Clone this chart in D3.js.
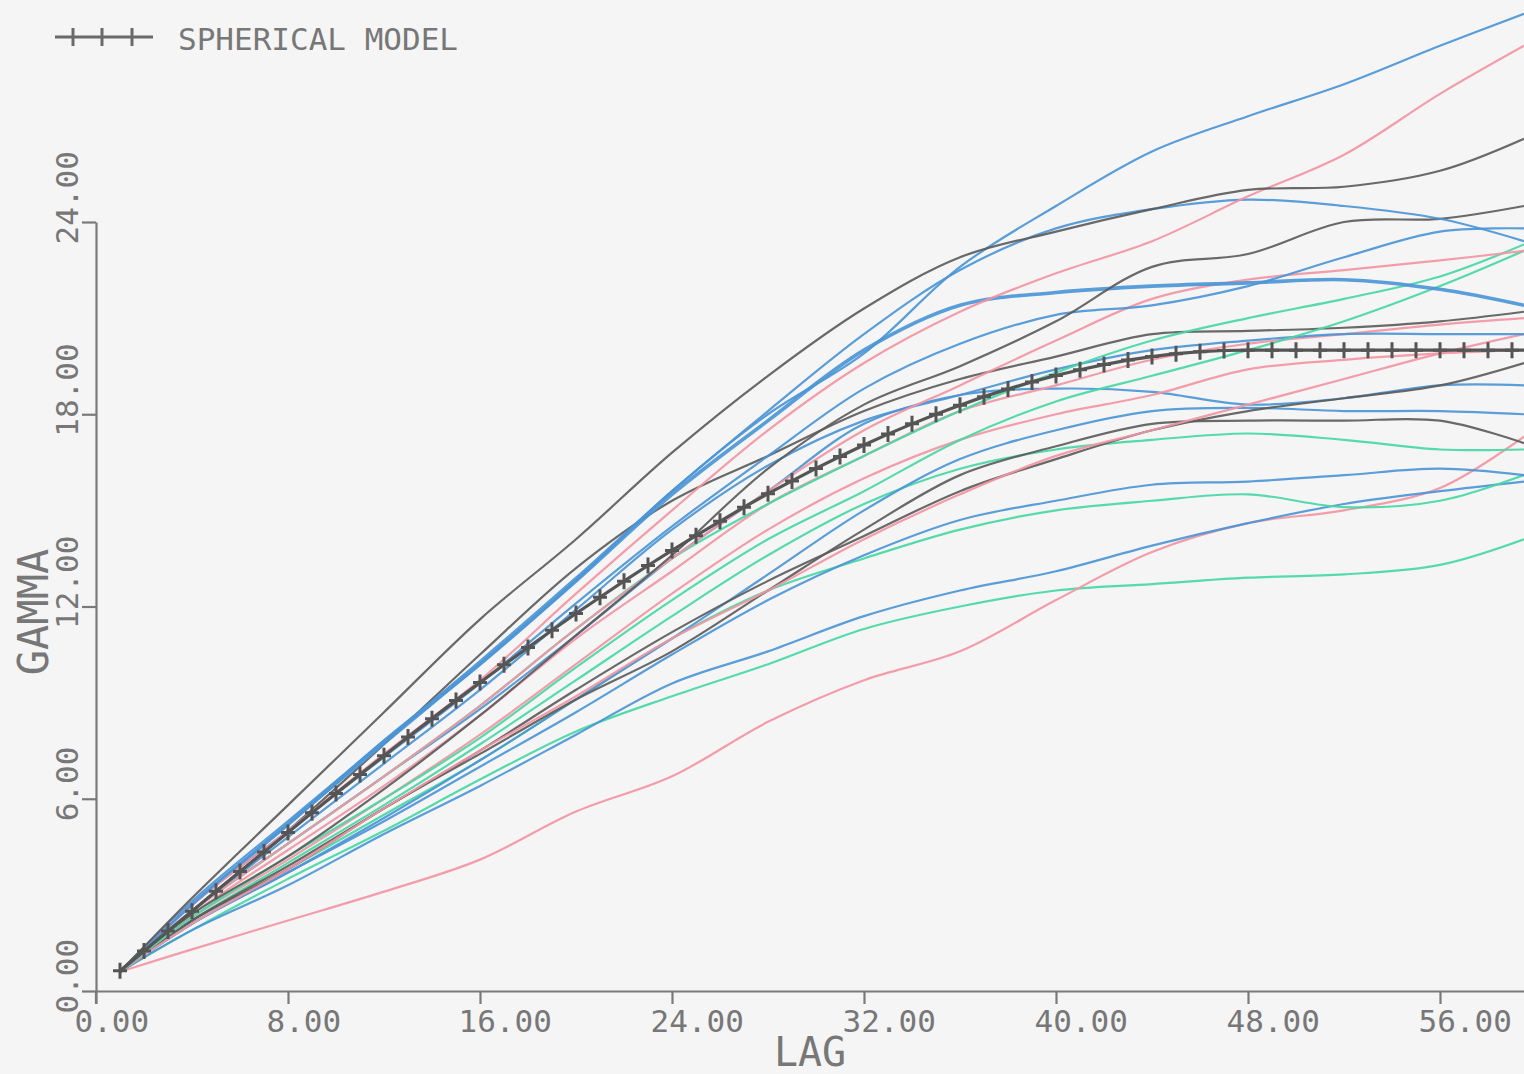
<!DOCTYPE html>
<html>
<head>
<meta charset="utf-8">
<script src="https://cdn.jsdelivr.net/npm/d3@7"></script>
<style>
  html, body { margin: 0; padding: 0; background: #f5f5f5; }
  svg { display: block; }
  text { font-family: "DejaVu Sans Mono", monospace; fill: #777; }
</style>
</head>
<body>
<svg id="chart" width="1524" height="1074"></svg>
<script>
// Lags at which each experimental variogram curve is sampled
const lags = [1, 4, 8, 12, 16, 20, 24, 28, 32, 36, 40, 44, 48, 52, 56, 59.5];

// Experimental variograms (gamma at each lag)
const gammaA = [0.6, 2.7, 5.2, 7.7, 10.2, 12.8, 15.6, 18.0, 19.9, 22.6, 24.5, 26.2, 27.3, 28.3, 29.5, 30.5];
const gammaB = [0.6, 2.7, 5.0, 7.4, 9.7, 12.4, 15.0, 17.5, 19.6, 21.2, 22.4, 23.4, 24.8, 26.1, 28.0, 29.5];
const gammaC = [0.6, 2.9, 5.8, 8.7, 11.6, 14.1, 16.8, 19.2, 21.3, 22.9, 23.7, 24.4, 25.0, 25.1, 25.6, 26.6];
const gammaD = [0.6, 2.8, 5.3, 7.8, 10.3, 12.9, 15.6, 18.1, 20.5, 22.5, 23.8, 24.4, 24.7, 24.5, 24.1, 23.4];
const gammaE = [0.6, 2.4, 4.2, 6.3, 8.6, 11.1, 13.6, 16.3, 18.3, 19.5, 20.9, 22.6, 23.0, 24.0, 24.1, 24.5];
const gammaF = [0.6, 2.7, 5.0, 7.3, 9.6, 12.1, 14.5, 16.7, 18.8, 20.2, 21.1, 21.4, 22.0, 22.9, 23.7, 23.8];
const gammaG = [0.6, 2.5, 4.6, 6.7, 8.9, 11.3, 13.5, 15.6, 17.5, 18.9, 20.3, 21.6, 22.2, 22.5, 22.8, 23.1];
const gammaH = [0.6, 2.7, 5.2, 7.8, 10.2, 12.8, 15.5, 17.8, 20.0, 21.4, 21.8, 22.0, 22.1, 22.2, 21.9, 21.4];
const gammaI = [0.6, 2.5, 4.6, 6.7, 8.9, 11.3, 13.5, 15.2, 16.7, 18.1, 19.3, 20.3, 21.0, 21.6, 22.3, 23.3];
const gammaJ = [0.6, 2.3, 4.2, 6.0, 7.9, 10.1, 12.2, 14.1, 15.6, 17.2, 18.4, 19.2, 20.0, 20.9, 22.0, 23.1];
const gammaK = [0.6, 2.5, 5.0, 7.7, 10.5, 13.2, 15.3, 16.7, 18.1, 19.1, 19.8, 20.5, 20.6, 20.7, 20.9, 21.2];
const gammaL = [0.6, 2.5, 4.8, 7.1, 9.4, 11.9, 14.4, 16.4, 17.8, 18.6, 19.4, 20.0, 20.3, 20.5, 20.5, 20.5];
const gammaM = [0.6, 2.4, 4.4, 6.4, 8.6, 11.0, 13.1, 15.2, 16.7, 18.1, 18.9, 19.7, 20.2, 20.5, 20.8, 21.0];
const gammaN = [0.6, 2.2, 3.9, 5.7, 7.5, 9.4, 11.2, 12.8, 14.2, 15.6, 16.6, 17.5, 18.1, 18.5, 18.9, 19.6];
const gammaO = [0.6, 2.5, 4.6, 6.7, 8.8, 11.1, 13.5, 15.6, 17.7, 18.6, 18.8, 18.7, 18.3, 18.5, 18.9, 18.9];
const gammaP = [0.6, 2.2, 3.8, 5.7, 7.4, 9.1, 10.6, 12.5, 14.4, 16.1, 17.0, 17.7, 17.8, 17.8, 17.8, 17.1];
const gammaQ = [0.6, 2.1, 3.7, 5.4, 7.2, 9.1, 11.0, 13.0, 15.0, 16.6, 17.5, 18.1, 18.2, 18.1, 18.1, 18.0];
const gammaR = [0.6, 2.2, 4.0, 5.8, 7.7, 9.7, 11.7, 13.6, 15.2, 16.3, 16.9, 17.2, 17.4, 17.2, 16.9, 16.9];
const gammaS = [0.6, 1.3, 2.2, 3.1, 4.1, 5.6, 6.7, 8.4, 9.7, 10.6, 12.2, 13.7, 14.6, 15.0, 15.7, 17.3];
const gammaT = [0.6, 2.1, 3.7, 5.3, 7.0, 8.7, 10.5, 12.2, 13.6, 14.7, 15.3, 15.8, 15.9, 16.1, 16.3, 16.1];
const gammaU = [0.6, 1.9, 3.3, 4.9, 6.4, 8.0, 9.6, 10.6, 11.7, 12.5, 13.1, 13.9, 14.6, 15.2, 15.6, 15.9];
const gammaV = [0.6, 2.1, 3.8, 5.5, 7.2, 9.1, 11.0, 12.5, 13.5, 14.4, 15.0, 15.3, 15.5, 15.1, 15.3, 16.1];
const gammaW = [0.6, 1.9, 3.5, 5.0, 6.6, 8.1, 9.2, 10.2, 11.3, 12.0, 12.5, 12.7, 12.9, 13.0, 13.3, 14.1];
const gammaP1 = [0.6, 2.3, 4.1, 6.0, 8.0, 10.2, 12.4, 14.4, 16.0, 17.2, 18.0, 18.6, 19.4, 19.7, 19.9, 20.0];
const gammaP2 = [0.6, 2.1, 3.8, 5.7, 7.5, 9.2, 11.0, 12.5, 14.1, 15.5, 16.7, 17.5, 18.3, 19.1, 19.9, 20.5];

// Fitted spherical model, one value per unit lag (1..59) plus the right edge
const modelLags = [1, 2, 3, 4, 5, 6, 7, 8, 9, 10, 11, 12, 13, 14, 15, 16, 17, 18, 19, 20,
  21, 22, 23, 24, 25, 26, 27, 28, 29, 30, 31, 32, 33, 34, 35, 36, 37, 38, 39, 40,
  41, 42, 43, 44, 45, 46, 47, 48, 49, 50, 51, 52, 53, 54, 55, 56, 57, 58, 59, 59.5];
const modelGamma = [0.63, 1.25, 1.87, 2.49, 3.11, 3.73, 4.34, 4.95, 5.56, 6.16,
  6.76, 7.34, 7.93, 8.50, 9.07, 9.63, 10.18, 10.72, 11.26, 11.78,
  12.29, 12.79, 13.28, 13.75, 14.21, 14.66, 15.10, 15.52, 15.92, 16.31,
  16.68, 17.04, 17.38, 17.70, 18.00, 18.28, 18.55, 18.79, 19.01, 19.21,
  19.39, 19.55, 19.69, 19.80, 19.89, 19.95, 19.99, 20.00, 20.00, 20.00,
  20.00, 20.00, 20.00, 20.00, 20.00, 20.00, 20.00, 20.00, 20.00, 20.00];

// Axis ticks
const xTicks = [0, 8, 16, 24, 32, 40, 48, 56];
const yTicks = [0, 6, 12, 18, 24];

const colors = { grey: "#5c5c5c", blue: "#4b95d6", pink: "#f295a3", green: "#47d8a4" };

const series = [
  { kind: "green", values: gammaW },
  { kind: "pink",  values: gammaS },
  { kind: "blue",  values: gammaU },
  { kind: "green", values: gammaV },
  { kind: "blue",  values: gammaT },
  { kind: "green", values: gammaR },
  { kind: "blue",  values: gammaQ },
  { kind: "grey",  values: gammaP },
  { kind: "blue",  values: gammaO },
  { kind: "grey",  values: gammaN },
  { kind: "pink",  values: gammaP2 },
  { kind: "pink",  values: gammaP1 },
  { kind: "pink",  values: gammaM },
  { kind: "blue",  values: gammaL },
  { kind: "grey",  values: gammaK },
  { kind: "green", values: gammaJ },
  { kind: "green", values: gammaI },
  { kind: "pink",  values: gammaG },
  { kind: "blue",  values: gammaF },
  { kind: "blue",  values: gammaH, wide: true },
  { kind: "grey",  values: gammaE },
  { kind: "blue",  values: gammaD },
  { kind: "pink",  values: gammaB },
  { kind: "blue",  values: gammaA },
  { kind: "grey",  values: gammaC }
];

const svg = d3.select("#chart");
const W = 1524, H = 1074;
svg.append("rect").attr("width", W).attr("height", H).attr("fill", "#f5f5f5");

const x = d3.scaleLinear().domain([0, 59.5]).range([96, 1524]);
const y = d3.scaleLinear().domain([0, 24]).range([991, 222]);

const axisColor = "#7a7a7a";

// X axis
const gx = svg.append("g").attr("transform", `translate(0,${y(0)})`)
  .call(d3.axisBottom(x).tickValues(xTicks).tickSize(13).tickSizeOuter(0)
    .tickFormat(d3.format(".2f")));
gx.select(".domain").attr("stroke", axisColor).attr("stroke-width", 2.2);
gx.selectAll(".tick line").attr("stroke", axisColor).attr("stroke-width", 2.2);
gx.selectAll(".tick text")
  .attr("x", -22).attr("y", 41).attr("dy", null)
  .attr("text-anchor", "start")
  .style("font-size", "31px").attr("fill", "#777");

// Y axis
const gy = svg.append("g").attr("transform", `translate(${x(0)},0)`)
  .call(d3.axisLeft(y).tickValues(yTicks).tickSize(14).tickSizeOuter(0)
    .tickFormat(d3.format(".2f")));
gy.select(".domain").attr("stroke", axisColor).attr("stroke-width", 2.2);
gy.selectAll(".tick line").attr("stroke", axisColor).attr("stroke-width", 2.2);
gy.selectAll(".tick text")
  .attr("x", -22).attr("y", -18).attr("dy", null)
  .attr("transform", "rotate(-90)")
  .attr("text-anchor", "start")
  .style("font-size", "31px").attr("fill", "#777");

// tick mark below the origin
svg.append("line")
  .attr("x1", x(0)).attr("x2", x(0))
  .attr("y1", y(0)).attr("y2", y(0) + 13)
  .attr("stroke", axisColor).attr("stroke-width", 2.2);

// Axis titles
svg.append("text")
  .attr("x", (x.range()[0] + x.range()[1]) / 2).attr("y", 1066)
  .attr("text-anchor", "middle")
  .style("font-size", "40px").text("LAG");
svg.append("text")
  .attr("transform", "translate(48,612) rotate(-90)")
  .attr("text-anchor", "middle")
  .style("font-size", "42px").text("GAMMA");

// Experimental variograms
const line = d3.line()
  .x((d, i) => x(lags[i]))
  .y(d => y(d))
  .curve(d3.curveCatmullRom.alpha(0.5));

svg.append("g").selectAll("path").data(series).join("path")
  .attr("d", d => line(d.values))
  .attr("fill", "none")
  .attr("stroke", d => colors[d.kind])
  .attr("stroke-width", d => d.wide ? 3.6 : 2.2)
  .attr("stroke-opacity", 0.92)
  .attr("stroke-linejoin", "round");

// Spherical model
const modelLine = d3.line()
  .x((d, i) => x(modelLags[i]))
  .y(d => y(d));
svg.append("path")
  .attr("d", modelLine(modelGamma))
  .attr("fill", "none")
  .attr("stroke", "#555")
  .attr("stroke-width", 3.2);

const plus = (cx, cy) => `M${cx - 7},${cy}H${cx + 7}M${cx},${cy - 8}V${cy + 8}`;
const markerIdx = modelLags.map((l, i) => i).filter(i => Number.isInteger(modelLags[i]));
svg.append("path")
  .attr("d", markerIdx.map(i => plus(x(modelLags[i]), y(modelGamma[i]))).join(""))
  .attr("fill", "none")
  .attr("stroke", "#555")
  .attr("stroke-width", 3);

// Legend
const lg = svg.append("g");
lg.append("line").attr("x1", 55).attr("x2", 153).attr("y1", 37).attr("y2", 37)
  .attr("stroke", "#6a6a6a").attr("stroke-width", 3);
[73, 102, 132].forEach(px => {
  lg.append("line").attr("x1", px).attr("x2", px).attr("y1", 28).attr("y2", 46)
    .attr("stroke", "#6a6a6a").attr("stroke-width", 3);
});
lg.append("text").attr("x", 178).attr("y", 50)
  .style("font-size", "31px").text("SPHERICAL MODEL");
</script>
</body>
</html>
